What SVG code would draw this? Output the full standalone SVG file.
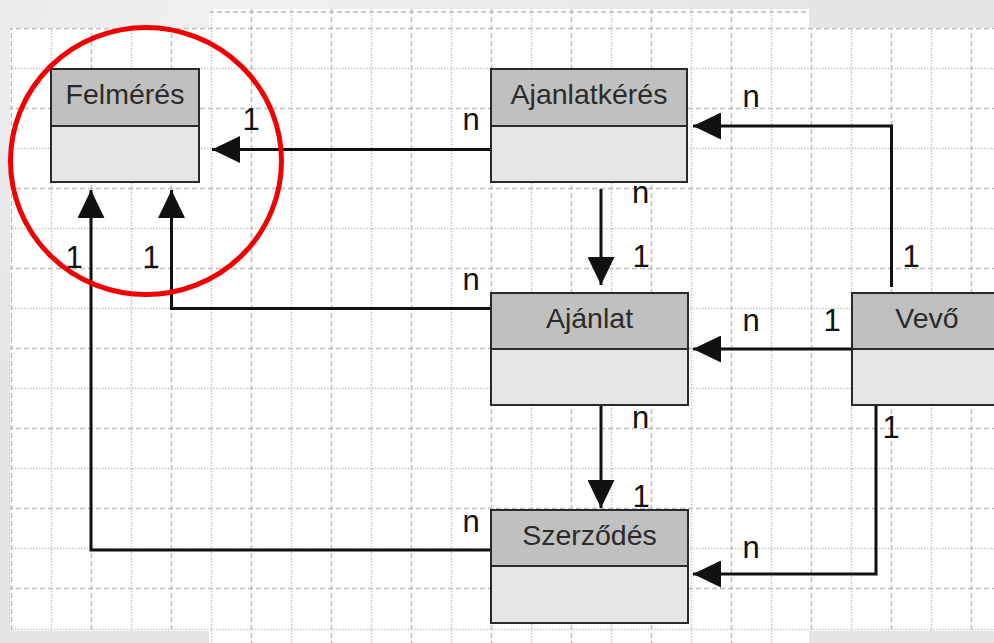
<svg xmlns="http://www.w3.org/2000/svg" width="994" height="643" viewBox="0 0 994 643">
<style>
.hd{fill:#c0c0c0;stroke:#2a2a2a;stroke-width:2}
.bd{fill:#e5e5e5;stroke:#2a2a2a;stroke-width:2}
.tt{font-family:"Liberation Sans",Arial,sans-serif;font-size:28.5px;fill:#2b2b2b;text-anchor:middle}
.lb{font-family:"Liberation Sans",Arial,sans-serif;font-size:31px;fill:#111;text-anchor:middle}
.cn{fill:none;stroke:#111;stroke-width:3}
.gd{fill:none;stroke:#bcbcbc;stroke-width:1.5;stroke-dasharray:5 3}
.gt{fill:none;stroke:#c6c6c6;stroke-width:1.5;stroke-dasharray:1.5 1.5}
</style>
<defs>
<radialGradient id="bgg" cx="0.25" cy="0.05" r="0.6">
<stop offset="0" stop-color="#f0f0f2"/>
<stop offset="1" stop-color="#e4e4e6"/>
</radialGradient>
<clipPath id="gclip">
<rect x="10" y="28" width="984" height="603"/>
<rect x="209" y="9" width="600" height="634"/>
</clipPath>
<marker id="ah" markerUnits="userSpaceOnUse" markerWidth="28" markerHeight="27" refX="28" refY="13.5" orient="auto" viewBox="0 0 28 27">
<path d="M0,0 L28,13.5 L0,27 Z" fill="#111"/>
</marker>
</defs>
<rect x="0" y="0" width="994" height="643" fill="url(#bgg)"/>
<g id="grid">
<rect x="10" y="28" width="984" height="603" fill="#fff"/>
<rect x="209" y="9" width="600" height="634" fill="#fff"/>
<g clip-path="url(#gclip)">
<path class="gd" d="M11.5,9V643M91.5,9V643M171.5,9V643M251.5,9V643M331.5,9V643M411.5,9V643M491.5,9V643M571.5,9V643M651.5,9V643M731.5,9V643M811.5,9V643M891.5,9V643M971.5,9V643"/>
<path class="gt" d="M51.5,9V643M131.5,9V643M211.5,9V643M291.5,9V643M371.5,9V643M451.5,9V643M531.5,9V643M611.5,9V643M691.5,9V643M771.5,9V643M851.5,9V643M931.5,9V643"/>
<path class="gd" d="M209,12H809M0,28.5H994M0,108.5H994M0,188.5H994M0,268.5H994M0,348.5H994M0,428.5H994M0,508.5H994M0,588.5H994"/>
<path class="gt" d="M0,68.5H994M0,148.5H994M0,228.5H994M0,308.5H994M0,388.5H994M0,468.5H994M0,548.5H994M0,629.5H994"/>
</g>
</g>
<g id="connectors">
<path class="cn" d="M491,149.5H212" marker-end="url(#ah)"/>
<path class="cn" d="M891.5,287V126H693" marker-end="url(#ah)"/>
<path class="cn" d="M601,189V285" marker-end="url(#ah)"/>
<path class="cn" d="M491,308.5H171.5V190" marker-end="url(#ah)"/>
<path class="cn" d="M491,550H91V190" marker-end="url(#ah)"/>
<path class="cn" d="M852,349H693" marker-end="url(#ah)"/>
<path class="cn" d="M601,405V508" marker-end="url(#ah)"/>
<path class="cn" d="M876,405V574H693" marker-end="url(#ah)"/>
<text class="lb" x="251" y="130">1</text>
<text class="lb" x="471" y="130">n</text>
<text class="lb" x="751" y="107">n</text>
<text class="lb" x="640.5" y="203">n</text>
<text class="lb" x="641" y="267">1</text>
<text class="lb" x="911" y="267">1</text>
<text class="lb" x="74" y="268">1</text>
<text class="lb" x="151" y="268">1</text>
<text class="lb" x="471" y="290">n</text>
<text class="lb" x="751" y="331">n</text>
<text class="lb" x="832" y="331">1</text>
<text class="lb" x="640.5" y="428">n</text>
<text class="lb" x="641" y="507">1</text>
<text class="lb" x="891" y="438">1</text>
<text class="lb" x="471" y="532">n</text>
<text class="lb" x="751" y="558">n</text>
</g>
<g id="felmeres">
<rect class="bd" x="51" y="126" width="148" height="56"/>
<rect class="hd" x="51" y="69" width="148" height="57"/>
<text class="tt" x="125" y="104">Felmérés</text>
</g>
<g id="ajanlatkeres">
<rect class="bd" x="491" y="126" width="196" height="56"/>
<rect class="hd" x="491" y="69" width="196" height="57"/>
<text class="tt" x="589" y="104">Ajanlatkérés</text>
</g>
<g id="ajanlat">
<rect class="bd" x="491" y="349" width="197" height="56"/>
<rect class="hd" x="491" y="293" width="197" height="56"/>
<text class="tt" x="589.5" y="327.5">Ajánlat</text>
</g>
<g id="szerzodes">
<rect class="bd" x="491" y="566" width="197" height="57"/>
<rect class="hd" x="491" y="510" width="197" height="56"/>
<text class="tt" x="589.5" y="545">Szerződés</text>
</g>
<g id="vevo">
<rect class="bd" x="852" y="349" width="150" height="56"/>
<rect class="hd" x="852" y="293" width="150" height="56"/>
<text class="tt" x="927" y="328">Vevő</text>
</g>
<g id="highlight">
<ellipse cx="146" cy="161" rx="135.5" ry="133.5" fill="none" stroke="#f00000" stroke-width="5"/>
</g>
</svg>
